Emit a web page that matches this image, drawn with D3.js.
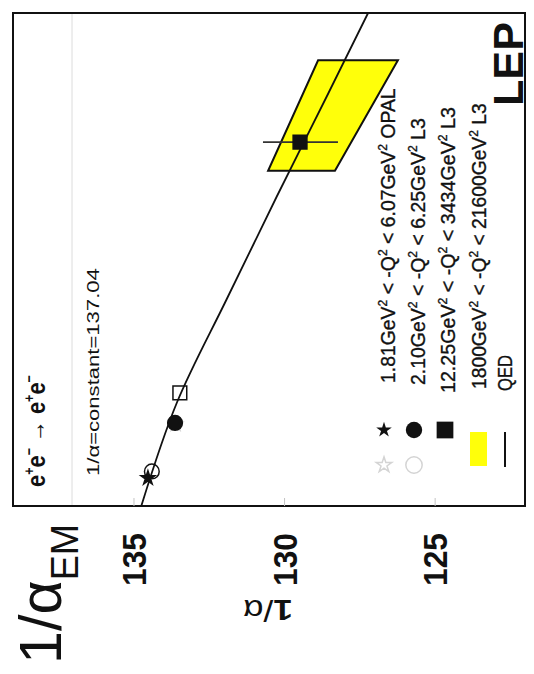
<!DOCTYPE html>
<html>
<head>
<meta charset="utf-8">
<script src="https://cdn.jsdelivr.net/npm/d3@7"></script>
<style>
body { margin: 0; background: #fff; }
text { font-family: "Liberation Sans", Arial, sans-serif; fill: #111; }
</style>
</head>
<body>
<script>
// figure is printed turned by 90 degrees: 1/alpha runs left->right, Q^2 runs bottom->top
var svgWidth = 534;
var svgHeight = 674;

// QED running curve (Q^2 in GeV^2, 1/alpha)
var qedQ2 = [0.967, 10, 100, 1000, 10000, 62400];
var qedInv = [134.74, 133.55, 131.91, 130.25, 128.55, 127.21];

// measured points (open = lower end of range, filled = upper end)
var pointQ2 = [1.81, 6.07, 2.10, 6.25, 12.25, 3434];
var pointInv = [134.52, 133.60, 134.39, 133.62, 133.46, 129.47];
var pointShape = ["star", "star", "circle", "circle", "square", "square"];
var pointOpen = [false, true, true, false, true, false];

// error bar on the high Q^2 L3 point
var errQ2 = 3434;
var errInv = [130.70, 128.21];

// 1800 < -Q^2 < 21600 band
var bandQ2 = [1800, 21600];
var bandLeft = [130.53, 128.87];
var bandRight = [128.31, 126.22];

var constInv = 137.04;
var tickValues = [135, 130, 125];

var legendLabels = [
  "1.81GeV\u00b2 < -Q\u00b2 < 6.07GeV\u00b2 OPAL",
  "2.10GeV\u00b2 < -Q\u00b2 < 6.25GeV\u00b2 L3",
  "12.25GeV\u00b2 < -Q\u00b2 < 3434GeV\u00b2 L3",
  "1800GeV\u00b2 < -Q\u00b2 < 21600GeV\u00b2 L3",
  "QED"
];

var svg = d3.select("body")
  .append("svg")
  .attr("width", svgWidth)
  .attr("height", svgHeight);

var x = d3.scaleLinear().domain([139, 122]).range([13, 525]);
var y = d3.scaleLog().domain([0.967, 62400]).range([506, 13]);

// rotate text and squeeze it to a given length
function place(t, px, py, rot, len) {
  var w = t.node().getComputedTextLength();
  var k = len ? len / w : 1;
  t.attr("transform", "translate(" + px + "," + py + ") rotate(" + rot + ") scale(" + k + ",1)");
  return t;
}

// write a string, turning the "²" into a raised small 2
function supText(t, s, fs) {
  var parts = s.split("\u00b2");
  parts.forEach(function(p, i) {
    if (i > 0) {
      t.append("tspan").attr("font-size", fs * 0.62).attr("dy", -fs * 0.42).text("2");
      t.append("tspan").attr("dy", fs * 0.42).text(p);
    } else {
      t.append("tspan").text(p);
    }
  });
}

// constant line
svg.append("line")
  .attr("x1", x(constInv)).attr("x2", x(constInv))
  .attr("y1", y.range()[1]).attr("y2", y.range()[0])
  .attr("stroke", "#e2e2e2")
  .attr("stroke-width", 1.2);

// yellow band
var bandPts = [
  [x(bandLeft[0]), y(bandQ2[0])],
  [x(bandRight[0]), y(bandQ2[0])],
  [x(bandRight[1]), y(bandQ2[1])],
  [x(bandLeft[1]), y(bandQ2[1])]
];
svg.append("polygon")
  .attr("points", bandPts.map(function(p) { return p.join(","); }).join(" "))
  .attr("fill", "#ffff0a")
  .attr("stroke", "#111")
  .attr("stroke-width", 2);

// QED line
var qedData = qedQ2.map(function(q, i) { return [q, qedInv[i]]; });
svg.append("path")
  .datum(qedData)
  .attr("d", d3.line()
    .x(function(d) { return x(d[1]); })
    .y(function(d) { return y(d[0]); })
    .curve(d3.curveMonotoneY))
  .attr("fill", "none")
  .attr("stroke", "#111")
  .attr("stroke-width", 1.8);

// error bar
svg.append("line")
  .attr("x1", x(errInv[0])).attr("x2", x(errInv[1]))
  .attr("y1", y(errQ2)).attr("y2", y(errQ2))
  .attr("stroke", "#333")
  .attr("stroke-width", 1.6);

var shapes = { star: d3.symbolStar, circle: d3.symbolCircle, square: d3.symbolSquare };
var sizes = { star: 60, circle: 170, square: 190 };

svg.selectAll(".pt")
  .data(pointQ2)
  .enter()
  .append("path")
  .attr("class", "pt")
  .attr("transform", function(d, i) { return "translate(" + x(pointInv[i]) + "," + y(d) + ")"; })
  .attr("d", function(d, i) { return d3.symbol().type(shapes[pointShape[i]]).size(sizes[pointShape[i]])(); })
  .attr("fill", function(d, i) { return pointOpen[i] ? "none" : "#111"; })
  .attr("stroke", function(d, i) { return pointOpen[i] && pointShape[i] == "star" ? "#d4d4d4" : "#111"; })
  .attr("stroke-width", 1.5);

// frame
svg.append("rect")
  .attr("x", x.range()[0]).attr("y", y.range()[1])
  .attr("width", x.range()[1] - x.range()[0])
  .attr("height", y.range()[0] - y.range()[1])
  .attr("fill", "none")
  .attr("stroke", "#111")
  .attr("stroke-width", 2);

// 1/alpha axis along the bottom
var axis = svg.append("g")
  .attr("transform", "translate(0," + y.range()[0] + ")")
  .call(d3.axisBottom(x).tickValues(tickValues).tickSizeInner(-8).tickSizeOuter(0).tickFormat(d3.format("d")));
axis.select(".domain").remove();
axis.selectAll(".tick line").attr("stroke", "#c4c4c4");
axis.selectAll(".tick text")
  .attr("x", 0).attr("y", 0).attr("dy", null)
  .attr("text-anchor", "start")
  .attr("font-size", 34)
  .attr("font-weight", "bold")
  .attr("font-family", "Liberation Sans, Arial, sans-serif")
  .attr("fill", "#111")
  .each(function() { place(d3.select(this), 12, 80, -90, 53); });

// axis title, upside down
var at = svg.append("text").attr("font-size", 30);
at.append("tspan").attr("font-weight", "bold").text("1");
at.append("tspan").text("/\u03b1");
place(at, 293, 600, 180, 50);

// big 1/alpha_EM label
var big = svg.append("text").attr("font-size", 60).attr("font-family", "Liberation Serif, serif");
big.append("tspan").text("1/\u03b1");
big.append("tspan").attr("font-family", "Liberation Sans, Arial, sans-serif").attr("font-size", 38).attr("dy", 17).text("EM");
place(big, 61, 664, -90, 140);

// process label
var proc = svg.append("text").attr("font-size", 26).attr("font-weight", "bold");
proc.append("tspan").text("e");
proc.append("tspan").attr("font-size", 15).attr("dy", -11).text("+");
proc.append("tspan").attr("dy", 11).text("e");
proc.append("tspan").attr("font-size", 15).attr("dy", -11).text("\u2212");
proc.append("tspan").attr("dy", 11).text(" \u2192 e");
proc.append("tspan").attr("font-size", 15).attr("dy", -11).text("+");
proc.append("tspan").attr("dy", 11).text("e");
proc.append("tspan").attr("font-size", 15).attr("dy", -11).text("\u2212");
place(proc, 45, 487, -90, 112);

var cst = svg.append("text").attr("font-size", 17).text("1/\u03b1=constant=137.04");
place(cst, 99, 476, -90, 208);

var lep = svg.append("text").attr("font-size", 42).attr("font-weight", "bold").text("LEP");
place(lep, 523, 106, -90, 84);

// legend
var legBase = [395, 425, 455, 486, 512];
var legStart = [383, 385, 393, 389, 391];
var legLen = [295, 267, 286, 286, 36];
legendLabels.forEach(function(s, i) {
  var t = svg.append("text")
    .attr("font-size", 20)
    .attr("stroke", "#111")
    .attr("stroke-width", 0.35);
  supText(t, s, 20);
  place(t, legBase[i], legStart[i], -90, legLen[i]);
});

var legRowX = [384, 414, 445];
var legShapes = ["star", "circle", "square"];
var legSizes = { star: 75, circle: 210, square: 280 };
legShapes.forEach(function(s, i) {
  svg.append("path")
    .attr("transform", "translate(" + legRowX[i] + ",430)")
    .attr("d", d3.symbol().type(shapes[s]).size(legSizes[s])())
    .attr("fill", "#111");
  if (s != "square") {
    svg.append("path")
      .attr("transform", "translate(" + legRowX[i] + ",465)")
      .attr("d", d3.symbol().type(shapes[s]).size(legSizes[s])())
      .attr("fill", "none")
      .attr("stroke", "#d4d4d4")
      .attr("stroke-width", 1.5);
  }
});
svg.append("rect")
  .attr("x", 470).attr("y", 432).attr("width", 17).attr("height", 34)
  .attr("fill", "#ffff0a");
svg.append("line")
  .attr("x1", 505).attr("x2", 505).attr("y1", 432).attr("y2", 467)
  .attr("stroke", "#111").attr("stroke-width", 2);
</script>
</body>
</html>
